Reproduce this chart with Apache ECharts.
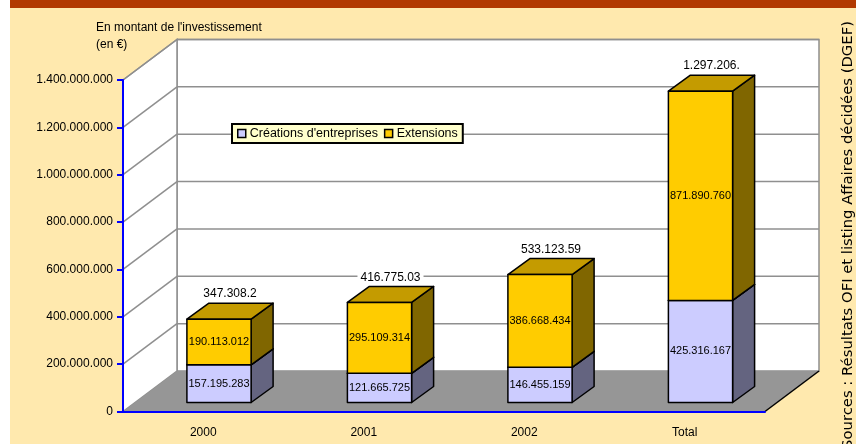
<!DOCTYPE html>
<html>
<head>
<meta charset="utf-8">
<script src="https://cdn.jsdelivr.net/npm/echarts@6/dist/echarts.min.js"></script>
<style>
  body { margin: 0; background: #fff; }
  #chart { width: 856px; height: 444px; }
</style>
</head>
<body>
<div id="chart"></div>
<script>
// données (en €)
const categories = ['2000', '2001', '2002', 'Total'];
const creations = [157195283, 121665725, 146455159, 425316167];
const extensions = [190113012, 295109314, 386668434, 871890760];
// étiquettes des totaux telles qu'affichées (tronquées)
const totalLabels = ['347.308.2', '416.775.03', '533.123.59', '1.297.206.'];
const yTicks = [0, 200000000, 400000000, 600000000, 800000000, 1000000000, 1200000000, 1400000000];

const FONT = '"Liberation Sans", Arial, sans-serif';

function dots(v) {
  return String(v).replace(/\B(?=(\d{3})+(?!\d))/g, '.');
}

// décalage de profondeur du décor 3D
const DX = 54, DY = -40.5;

function renderScene(params, api) {
  const cs = params.coordSys;
  const x0 = cs.x, y0 = cs.y, w = cs.width, h = cs.height;
  const gray = '#8f8f8f';
  const kids = [];
  // mur du fond
  kids.push({type: 'rect', shape: {x: x0 + DX, y: y0 + DY, width: w, height: h},
    style: {fill: '#fff', stroke: gray, lineWidth: 1.5}});
  // mur de gauche
  kids.push({type: 'polygon', shape: {points: [[x0, y0], [x0 + DX, y0 + DY], [x0 + DX, y0 + h + DY], [x0, y0 + h]]},
    style: {fill: '#fff', stroke: gray, lineWidth: 1.5}});
  // sol
  kids.push({type: 'polygon', shape: {points: [[x0, y0 + h], [x0 + DX, y0 + h + DY], [x0 + w + DX, y0 + h + DY], [x0 + w, y0 + h]]},
    style: {fill: '#969696'}});
  kids.push({type: 'line', shape: {x1: x0 + w, y1: y0 + h, x2: x0 + w + DX, y2: y0 + h + DY},
    style: {stroke: '#000', lineWidth: 1.5}});
  // quadrillage
  yTicks.forEach(function (v) {
    if (v === 0) return;
    const py = api.coord([0, v])[1];
    kids.push({type: 'line', shape: {x1: x0, y1: py, x2: x0 + DX, y2: py + DY},
      style: {stroke: gray, lineWidth: 1.5}});
    kids.push({type: 'line', shape: {x1: x0 + DX, y1: py + DY, x2: x0 + w + DX, y2: py + DY},
      style: {stroke: gray, lineWidth: 1.5}});
  });
  return {type: 'group', children: kids};
}

function makeBarRenderer(front, top, side, withTotal) {
  return function (params, api) {
    const cat = api.value(0), lo = api.value(1), hi = api.value(2), val = api.value(3);
    const pTop = api.coord([cat, hi]);
    const pBot = api.coord([cat, lo]);
    const bw = api.size([1, 0])[0] * 0.4;
    const x1 = pTop[0] - bw / 2, x2 = pTop[0] + bw / 2;
    const yt = pTop[1], yb = pBot[1];
    const ddx = 22, ddy = -16;
    const line = {stroke: '#000', lineWidth: 1.5, lineJoin: 'round'};
    const kids = [
      {type: 'polygon', shape: {points: [[x2, yt], [x2 + ddx, yt + ddy], [x2 + ddx, yb + ddy], [x2, yb]]},
        style: Object.assign({fill: side}, line)},
      {type: 'polygon', shape: {points: [[x1, yt], [x1 + ddx, yt + ddy], [x2 + ddx, yt + ddy], [x2, yt]]},
        style: Object.assign({fill: top}, line)},
      {type: 'rect', shape: {x: x1, y: yt, width: bw, height: yb - yt},
        style: Object.assign({fill: front}, line)},
      {type: 'text', x: pTop[0], y: (yt + yb) / 2,
        style: {text: dots(val), fill: '#000', font: '11px ' + FONT, align: 'center', verticalAlign: 'middle'}}
    ];
    if (withTotal) {
      kids.push({type: 'text', x: pTop[0] + ddx / 2, y: yt - 25,
        style: {text: totalLabels[cat], fill: '#000', font: '12px ' + FONT, align: 'center', verticalAlign: 'middle',
          backgroundColor: '#fff', padding: [1, 3]}});
    }
    return {type: 'group', children: kids};
  };
}

const chart = echarts.init(document.getElementById('chart'));
chart.setOption({
  backgroundColor: '#FFE9AE',
  textStyle: {fontFamily: FONT},
  animation: false,
  title: {
    text: "En montant de l'investissement\n(en €)",
    left: 96, top: 19, padding: 0,
    textStyle: {fontSize: 12, fontWeight: 'normal', color: '#000', lineHeight: 17, fontFamily: FONT}
  },
  legend: {
    data: ["Créations d'entreprises", 'Extensions'],
    left: 232, top: 124,
    icon: 'rect',
    itemWidth: 8, itemHeight: 8, itemGap: 6,
    padding: [3, 5, 3, 5],
    backgroundColor: '#FFFFCC',
    borderColor: '#000', borderWidth: 2, borderRadius: 0,
    itemStyle: {borderColor: '#000', borderWidth: 1.5},
    textStyle: {fontSize: 12.5, color: '#000', padding: [0, 0, 0, -1]}
  },
  graphic: [
    {type: 'rect', left: 0, top: 0, shape: {width: 10, height: 444}, style: {fill: '#fff'}},
    {type: 'rect', left: 10, top: 0, shape: {width: 846, height: 8}, style: {fill: '#B23900'}},
    {type: 'text', x: 848, y: 235, rotation: Math.PI / 2,
      style: {text: 'Sources : Résultats OFI et listing Affaires décidées (DGEF)', fill: '#000',
        font: '14.8px "DejaVu Sans", sans-serif', align: 'center', verticalAlign: 'middle'}}
  ],
  grid: [
    {left: 123, top: 80, width: 642, height: 331.5},
    {left: 138.75, top: 66.5, width: 642, height: 336}
  ],
  xAxis: [
    {
      type: 'category', gridIndex: 0, data: categories, z: 10,
      axisLine: {lineStyle: {color: '#0000FF', width: 2}},
      axisTick: {length: 6, lineStyle: {color: '#0000FF', width: 2}},
      axisLabel: {color: '#000', fontSize: 12, margin: 15}
    },
    {type: 'category', gridIndex: 1, data: categories, show: false}
  ],
  yAxis: [
    {
      type: 'value', gridIndex: 0, min: 0, max: 1400000000, interval: 200000000, z: 10,
      axisLine: {show: true, lineStyle: {color: '#0000FF', width: 2}},
      axisTick: {show: true, length: 6, lineStyle: {color: '#0000FF', width: 2}},
      axisLabel: {color: '#000', fontSize: 12, margin: 10, formatter: dots},
      splitLine: {show: false}
    },
    {type: 'value', gridIndex: 1, min: 0, max: 1400000000, show: false, splitLine: {show: false}}
  ],
  series: [
    {
      type: 'custom', name: 'scene', xAxisIndex: 0, yAxisIndex: 0, z: 1, silent: true,
      renderItem: renderScene, data: [[0, 0]]
    },
    {
      type: 'custom', name: "Créations d'entreprises", xAxisIndex: 1, yAxisIndex: 1, z: 2,
      itemStyle: {color: '#CCCCFF'},
      encode: {x: 0, y: [1, 2]},
      renderItem: makeBarRenderer('#CCCCFF', '#9999BF', '#646480', false),
      data: categories.map(function (c, i) { return [i, 0, creations[i], creations[i]]; })
    },
    {
      type: 'custom', name: 'Extensions', xAxisIndex: 1, yAxisIndex: 1, z: 3,
      itemStyle: {color: '#FFCC00'},
      encode: {x: 0, y: [1, 2]},
      renderItem: makeBarRenderer('#FFCC00', '#C49B00', '#806600', true),
      data: categories.map(function (c, i) {
        return [i, creations[i], creations[i] + extensions[i], extensions[i]];
      })
    }
  ]
});
</script>
</body>
</html>
